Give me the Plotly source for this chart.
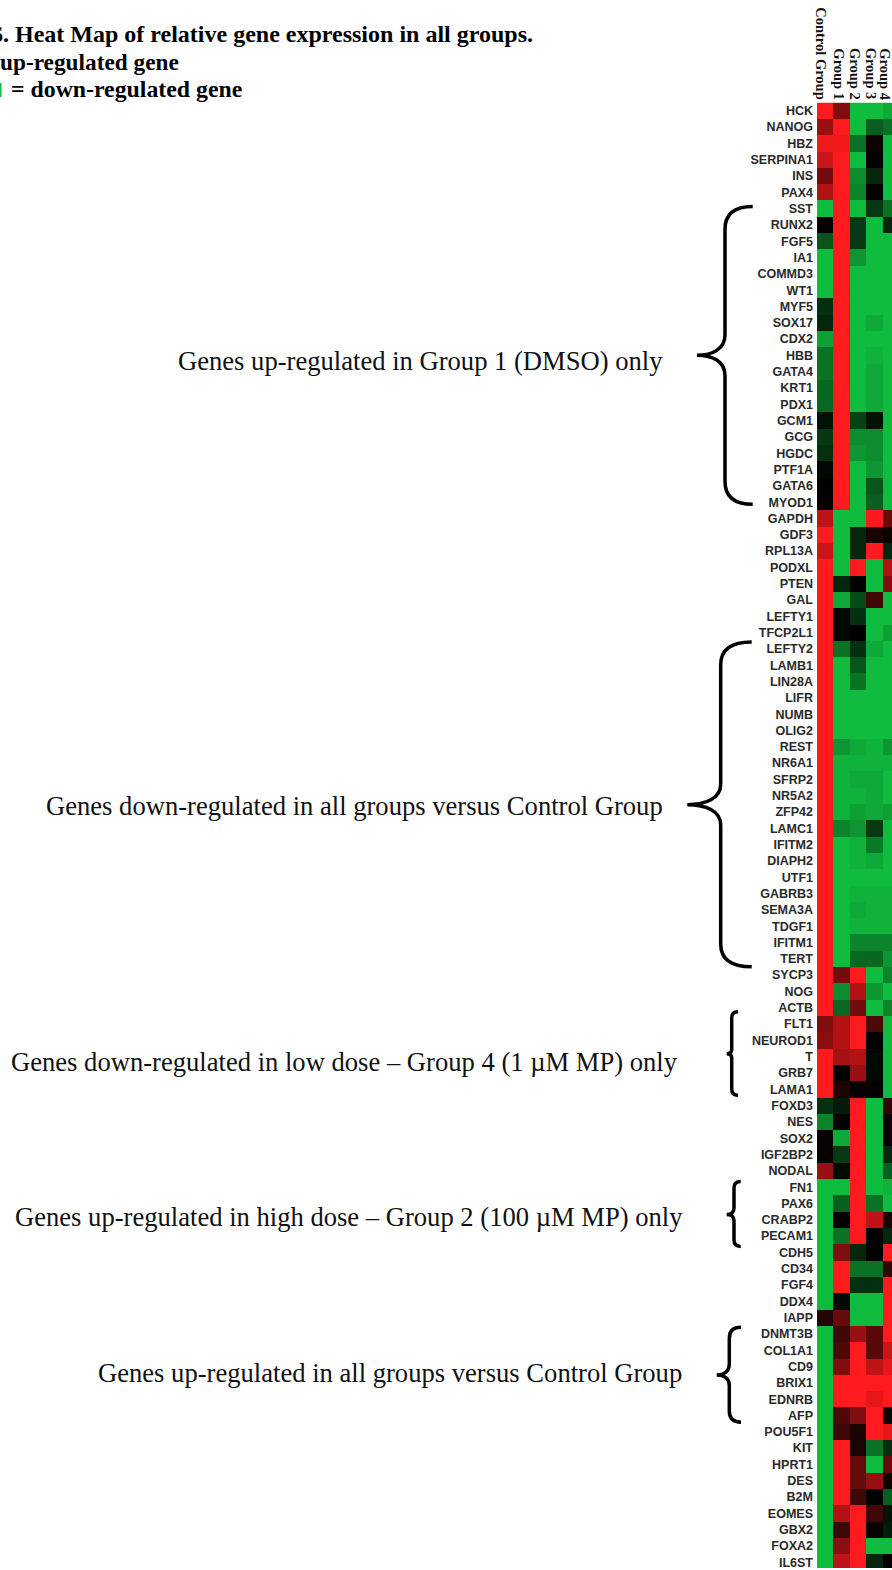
import plotly.graph_objects as go

groups = ["Control Group", "Group 1", "Group 2", "Group 3", "Group 4"]
genes = ["HCK","NANOG","HBZ","SERPINA1","INS","PAX4","SST","RUNX2","FGF5","IA1","COMMD3","WT1","MYF5","SOX17","CDX2","HBB","GATA4","KRT1","PDX1","GCM1","GCG","HGDC","PTF1A","GATA6","MYOD1","GAPDH","GDF3","RPL13A","PODXL","PTEN","GAL","LEFTY1","TFCP2L1","LEFTY2","LAMB1","LIN28A","LIFR","NUMB","OLIG2","REST","NR6A1","SFRP2","NR5A2","ZFP42","LAMC1","IFITM2","DIAPH2","UTF1","GABRB3","SEMA3A","TDGF1","IFITM1","TERT","SYCP3","NOG","ACTB","FLT1","NEUROD1","T","GRB7","LAMA1","FOXD3","NES","SOX2","IGF2BP2","NODAL","FN1","PAX6","CRABP2","PECAM1","CDH5","CD34","FGF4","DDX4","IAPP","DNMT3B","COL1A1","CD9","BRIX1","EDNRB","AFP","POU5F1","KIT","HPRT1","DES","B2M","EOMES","GBX2","FOXA2","IL6ST"]

control = [1,.6,.95,.8,.45,.7,-1,.02,-.45,-1,-1,-1,-.25,-.2,-.85,-.6,-.6,-.55,-.55,-.1,-.3,-.25,-.05,0,.03,.75,1,.8,1,1,1,1,1,1,1,1,1,1,1,1,1,1,1,1,1,1,1,1,1,1,1,1,1,1,1,1,.5,.55,1,1,1,-.25,-.7,.03,.03,.6,-1,-1,-1,-1,-1,-1,-1,-1,.15,-1,-1,-1,-1,-1,-1,-1,-1,-1,-1,-1,-1,-1,-1,-1]
group1 = [.5,1,.95,1,1,1,1,1,1,1,1,1,1,1,1,1,1,1,1,1,1,1,1,1,1,-1,-1,-1,-1,-.2,-.9,-.05,-.05,-.6,-1,-1,-1,-1,-1,-.8,-.95,-.95,-.95,-.95,-.7,-1,-1,-1,-1,-1,-1,-1,-1,.45,-.75,-.55,.7,.7,.65,0,.1,-.15,0,-.9,-.3,-.05,-1,-.5,0,-.6,.5,1,1,-.05,.4,.25,.3,.5,1,1,.3,.25,1,1,1,1,.7,.25,.55,.75]
group2 = [-1,-1,-.6,-1,-.75,-.7,-1,-.3,-.3,-.8,-1,-1,-1,-1,-1,-1,-1,-1,-1,-.35,-.75,-.8,-1,-1,-1,-1,-.2,-.2,1,0,-.4,-.25,0,-.25,-.45,-.6,-1,-1,-1,-.9,-.95,-.9,-.95,-.85,-.8,-.95,-.95,-1,-.95,-.9,-.95,-.7,-.55,1,.7,.45,1,1,.7,.6,.03,1,1,1,1,1,1,1,1,1,-.2,-.6,-.25,-1,-1,.6,1,1,1,1,.5,.1,.1,.4,.4,.25,1,1,1,1]
group3 = [-1,-.5,.05,0,-.2,0,-.3,-1,-1,-1,-1,-1,-1,-.9,-1,-.95,-.9,-.9,-.9,-.1,-.75,-.75,-.8,-.45,-.5,1,.1,1,-1,-1,.25,-1,-1,-.9,-1,-1,-1,-1,-1,-.95,-.95,-.9,-.9,-.9,-.3,-.65,-.9,-1,-.95,-.95,-.95,-.7,-.55,-1,-.8,-1,.3,0,-.05,-.05,0,-1,-1,-1,-1,-1,-1,-.6,.75,0,0,-.6,-.25,-1,-1,.35,.35,.75,1,.9,1,1,-.6,-1,.6,0,.25,.03,-1,-.2]
group4 = [-.9,-.6,-1,-1,-1,-1,-.6,-.2,-1,-1,-1,-1,-1,-1,-1,-1,-1,-1,-1,-1,-1,-1,-1,-1,-1,.4,.05,-.2,.7,.5,-1,-1,-.85,-1,-1,-1,-1,-1,-1,-.8,-.95,-1,-1,-.85,-1,-1,-1,-1,-.95,-.95,-.95,-.7,-.8,-.7,-1,-.7,-1,-1,-1,-1,-1,.2,.03,.03,-.2,-.5,-.95,-1,.1,-.2,1,.2,1,1,1,1,.8,.9,1,1,.05,.9,-.25,.4,.05,-.5,-.1,-.15,-1,0]

colorscale = [[0, "#10BC3E"], [0.5, "#000000"], [1, "#FF1A1E"]]
W, H = 892, 1570
TOP, LEFT, CW, RH = 102.7, 817.0, 16.35, 16.33

fig = go.Figure(go.Heatmap(
    z=[list(r) for r in zip(control, group1, group2, group3, group4)],
    x=groups, y=genes, zmin=-1, zmax=1, colorscale=colorscale,
    showscale=False, xgap=0, ygap=0))

def brace(xs, xt, y0, ym, y1, xe):
    """Curly brace path; xs spine, xt tip, xe arm end, all in page pixels."""
    a = min(xe - xs, 24) * 0.95   # curve height at the arms
    b = min(xs - xt, 24) * 0.85   # curve height at the tip
    return (f"M {xe},{y0} C {xs+(xe-xs)*.3},{y0} {xs},{y0+a*.35} {xs},{y0+a} "
            f"L {xs},{ym-b} C {xs},{ym-b*.3} {xs-(xs-xt)*.45},{ym} {xt},{ym} "
            f"C {xs-(xs-xt)*.45},{ym} {xs},{ym+b*.3} {xs},{ym+b} "
            f"L {xs},{y1-a} C {xs},{y1-a*.35} {xs+(xe-xs)*.3},{y1} {xe},{y1}")

braces = [
    (725, 697, 206.7, 355.7, 505, 752.7),
    (720.7, 687.3, 642.7, 805.7, 968, 751.7),
    (731.7, 726.7, 1013, 1055, 1096.7, 738),
    (734, 726.7, 1183, 1216, 1248, 740.7),
    (729.3, 716.7, 1329, 1376.7, 1424, 741),
]
shapes = [dict(type="path", xref="x2", yref="y2", path=brace(xs, xt, y0, ym, y1, xe),
               line=dict(color="#000", width=3.5), layer="above") for xs, xt, y0, ym, y1, xe in braces]
# sliver of the green key swatch at the cropped left edge
shapes.append(dict(type="rect", xref="x2", yref="y2", x0=0, x1=1.5, y0=83, y1=97,
                   line=dict(width=0), fillcolor="#10BC3E"))

SERIF = "Liberation Serif"
notes = [
    ("Genes up-regulated in Group 1 (DMSO) only", 665, 361),
    ("Genes down-regulated in all groups versus Control Group", 665, 807),
    ("Genes down-regulated in low dose – Group 4 (1 µM MP) only", 680, 1063),
    ("Genes up-regulated in high dose – Group 2 (100 µM MP) only", 685, 1219),
    ("Genes up-regulated in all groups versus Control Group", 684, 1375),
]
annotations = [dict(text=t, xref="x2", yref="y2", x=x, y=y, xanchor="right", yanchor="middle",
                    showarrow=False, font=dict(family=SERIF, size=26.6, color="#111")) for t, x, y in notes]
heads = [
    ("<b>6. Heat Map of relative gene expression in all groups.</b>", 535, 34, 24),
    ("<b>up-regulated gene</b>", 181, 62, 23.3),
    ("<b>= down-regulated gene</b>", 244, 89, 23.8),
]
annotations += [dict(text=t, xref="x2", yref="y2", x=x, y=y, xanchor="right", yanchor="middle",
                     showarrow=False, font=dict(family=SERIF, size=s, color="#000")) for t, x, y, s in heads]
shift = [-5, -2, -3, -3, -5]
annotations += [dict(text=f"<b>{g}</b>", xref="x", yref="paper", x=g, y=1 - 102 / H, xshift=s,
                     xanchor="center", yanchor="bottom", textangle=90, showarrow=False,
                     font=dict(family=SERIF, size=14.5, color="#111")) for g, s in zip(groups, shift)]

fig.update_layout(
    width=W, height=H, margin=dict(l=0, r=0, t=0, b=0), paper_bgcolor="white", plot_bgcolor="rgba(0,0,0,0)",
    showlegend=False, shapes=shapes, annotations=annotations,
    xaxis=dict(domain=[LEFT / W, 1], range=[-0.5, -0.5 + (W - LEFT) / CW], showticklabels=False,
               ticks="", showgrid=False, zeroline=False, type="category", categoryorder="array", categoryarray=groups),
    yaxis=dict(domain=[0, 1 - TOP / H], range=[-0.5 + (H - TOP) / RH, -0.5], tickmode="array",
               tickvals=genes, ticktext=genes, ticks="", showgrid=False, zeroline=False, type="category",
               categoryorder="array", categoryarray=genes, ticklabelstandoff=3,
               tickfont=dict(family="Liberation Sans", size=12.5, color="#2a2a2a", weight="bold")),
    xaxis2=dict(domain=[0, 1], range=[0, W], visible=False, anchor="y2"),
    yaxis2=dict(domain=[0, 1], range=[H, 0], visible=False, anchor="x2"),
)
fig.add_trace(go.Scatter(x=[None], y=[None], xaxis="x2", yaxis="y2", showlegend=False))
fig.write_html("out.html", post_script="document.body.style.margin='0';", config={"displayModeBar": False})
